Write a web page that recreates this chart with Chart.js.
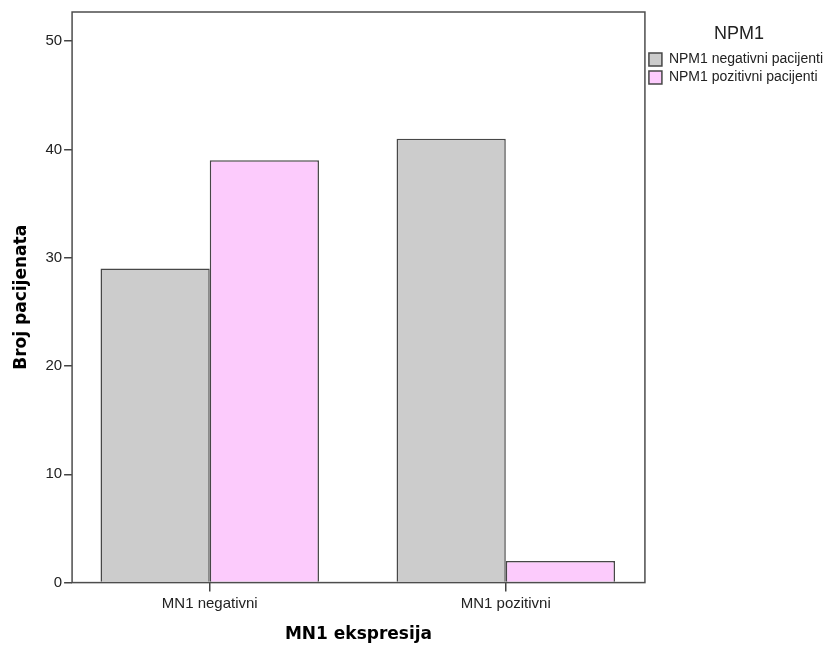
<!DOCTYPE html>
<html>
<head>
<meta charset="utf-8">
<script src="https://cdn.jsdelivr.net/npm/chart.js@4/dist/chart.umd.min.js"></script>
<style>
  html, body { margin: 0; padding: 0; background: #fff; }
  #wrap { width: 827px; height: 645px; }
</style>
</head>
<body>
<div id="wrap"><canvas id="chart" width="827" height="645"></canvas></div>
<script>
const categories = ['MN1 negativni', 'MN1 pozitivni'];
const seriesNames = ['NPM1 negativni pacijenti', 'NPM1 pozitivni pacijenti'];
const negValues = [29, 41];
const posValues = [39, 2];
const yTicks = [0, 10, 20, 30, 40, 50];

// categories sit on a numeric axis so the uneven SPSS spacing can be matched
const toPoints = vals => vals.map((v, i) => ({ x: i, y: v }));

// frame around the plot area, like SPSS output
const framePlugin = {
  id: 'frame',
  afterDatasetsDraw(chart) {
    const { ctx, chartArea: a } = chart;
    ctx.save();
    ctx.strokeStyle = '#4d4d4d';
    ctx.lineWidth = 1.5;
    ctx.strokeRect(a.left, a.top, a.right - a.left, a.bottom - a.top);
    ctx.restore();
  }
};

new Chart(document.getElementById('chart'), {
  type: 'bar',
  data: {
    datasets: [
      {
        label: seriesNames[0],
        data: toPoints(negValues),
        backgroundColor: '#cccccc',
        borderColor: '#474747',
        borderWidth: 1.5
      },
      {
        label: seriesNames[1],
        data: toPoints(posValues),
        backgroundColor: '#fccbfc',
        borderColor: '#474747',
        borderWidth: 1.5
      }
    ]
  },
  options: {
    responsive: false,
    animation: false,
    layout: { padding: { left: 11, top: 12, right: -6, bottom: 0 } },
    datasets: { bar: { barPercentage: 1, categoryPercentage: 0.738 } },
    plugins: {
      tooltip: { enabled: false },
      legend: {
        position: 'right',
        align: 'start',
        title: {
          display: true,
          text: 'NPM1',
          color: '#222',
          font: { family: 'Liberation Sans', size: 18 },
          padding: { top: 13, bottom: 2 }
        },
        labels: {
          boxWidth: 13,
          boxHeight: 13,
          padding: 4,
          color: '#111',
          font: { family: 'Liberation Sans', size: 14 },
          generateLabels(chart) {
            return chart.data.datasets.map((ds, i) => ({
              text: ds.label,
              fillStyle: ds.backgroundColor,
              strokeStyle: '#474747',
              lineWidth: 1.5,
              datasetIndex: i
            }));
          }
        }
      }
    },
    scales: {
      x: {
        type: 'linear',
        min: -0.465,
        max: 1.47,
        offset: false,
        border: { display: false },
        afterBuildTicks(scale) {
          scale.ticks = categories.map((c, i) => ({ value: i }));
        },
        grid: { display: true, offset: false, drawOnChartArea: false, tickLength: 9, color: '#444', lineWidth: 1.5 },
        ticks: {
          color: '#222',
          padding: 3,
          font: { family: 'Liberation Sans', size: 15 },
          callback: v => categories[v]
        },
        title: {
          display: true,
          text: 'MN1 ekspresija',
          color: '#000',
          font: { family: 'DejaVu Sans', size: 17, weight: 'bold' },
          padding: { top: 9, bottom: 0 }
        }
      },
      y: {
        min: 0,
        max: 52.7,
        border: { display: false },
        afterBuildTicks(scale) {
          scale.ticks = yTicks.map(v => ({ value: v }));
        },
        grid: { display: true, drawOnChartArea: false, tickLength: 8, color: '#444', lineWidth: 1.5 },
        ticks: { color: '#222', padding: 2, font: { family: 'Liberation Sans', size: 15 } },
        title: {
          display: true,
          text: 'Broj pacijenata',
          color: '#000',
          font: { family: 'DejaVu Sans', size: 17, weight: 'bold' },
          padding: { top: 0, bottom: 12 }
        }
      }
    }
  },
  plugins: [framePlugin]
});
</script>
</body>
</html>
